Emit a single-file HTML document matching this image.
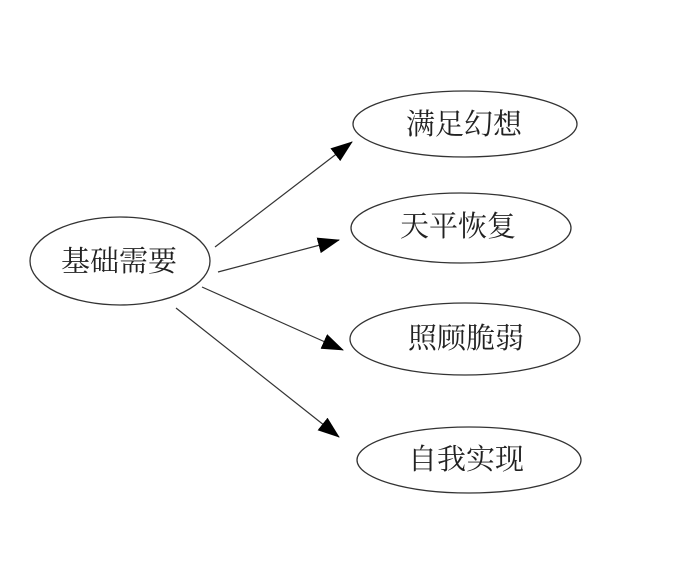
<!DOCTYPE html>
<html><head><meta charset="utf-8"><style>
html,body{margin:0;padding:0;background:#fff;}
svg{display:block;}
text{font-family:"Liberation Serif","Noto Serif CJK SC","Noto Sans CJK SC",serif;font-size:29px;fill:#222;text-anchor:middle;dominant-baseline:central;}
</style></head><body>
<svg width="700" height="569" viewBox="0 0 700 569" xmlns="http://www.w3.org/2000/svg">
<defs>
<marker id="b" markerWidth="22" markerHeight="16" refX="21" refY="8" orient="auto" markerUnits="userSpaceOnUse" viewBox="0 0 22 16"><path d="M0,0 L22,8 L0,16 z" fill="#000"/></marker></defs>
<g fill="none" stroke="#333" stroke-width="1.3">
<ellipse cx="120" cy="261" rx="90" ry="44"/>
<ellipse cx="465" cy="124" rx="112" ry="33"/>
<ellipse cx="461" cy="228" rx="110" ry="35"/>
<ellipse cx="465" cy="339" rx="115" ry="36"/>
<ellipse cx="469" cy="460" rx="112" ry="33"/>
</g>
<g stroke="#333" stroke-width="1.2" marker-end="url(#b)">
<line x1="215" y1="247" x2="352" y2="142"/>
<line x1="218" y1="272" x2="339" y2="240"/>
<line x1="202" y1="287" x2="343" y2="350"/>
<line x1="176" y1="308" x2="339" y2="437"/>
</g>
<text x="119" y="262">基础需要</text>
<text x="464" y="125">满足幻想</text>
<text x="458" y="227">天平恢复</text>
<text x="466" y="339">照顾脆弱</text>
<text x="466" y="460">自我实现</text>
</svg>
</body></html>
